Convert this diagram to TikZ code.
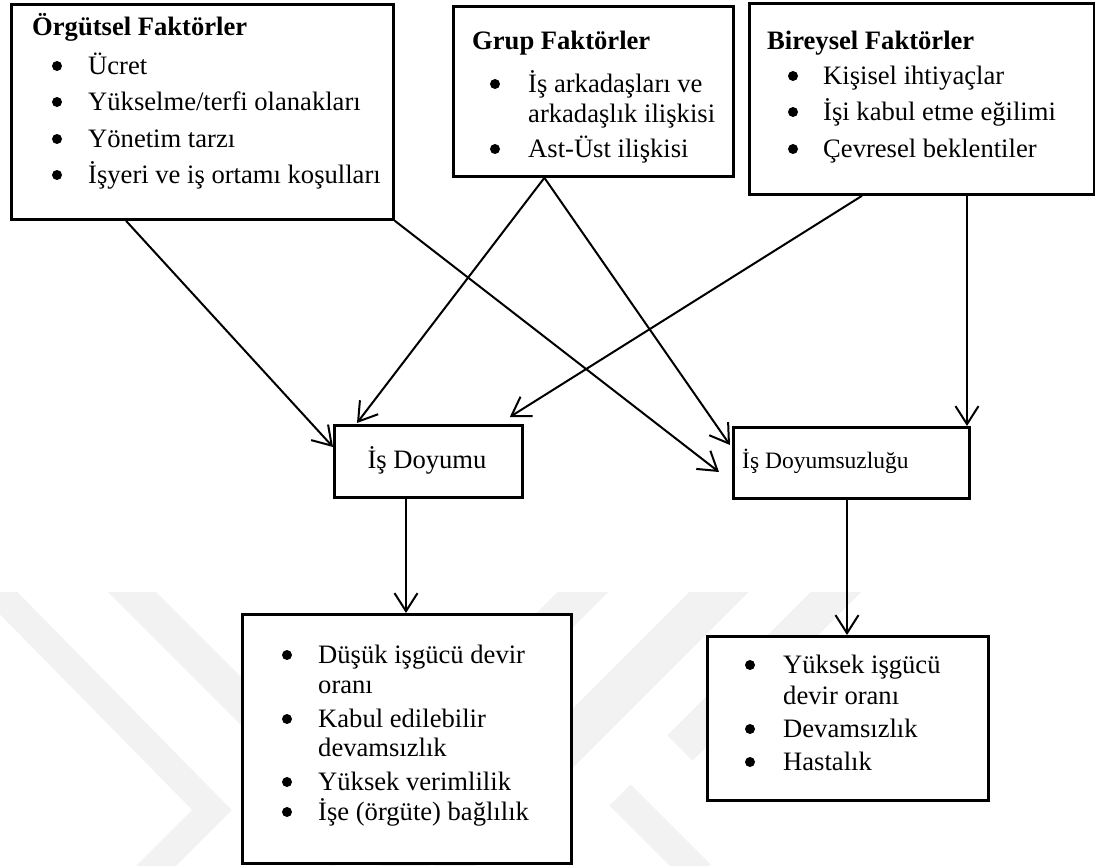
\documentclass[tikz,border=0pt]{standalone}
\usepackage{fontspec}
\setmainfont{Liberation Serif}
\usetikzlibrary{arrows.meta,calc}
\tikzset{
  box/.style={draw, line width=2.8pt, fill=white, inner sep=0pt, anchor=north west},
  txt/.style={anchor=base west, inner sep=0pt, font=\fontsize{26.6}{30}\selectfont},
  head/.style={anchor=base west, inner sep=0pt, font=\fontsize{26.6}{30}\selectfont\bfseries},
  arr/.style={line width=2pt, -{Straight Barb[length=18pt,width=23pt,line width=2pt]}},
  wm/.style={draw=black!5, line join=miter}
}
\newcommand\bul[2]{\fill (#1,#2-8) circle (5pt);}
\begin{document}
\begin{tikzpicture}[x=1pt,y=-1pt]
\useasboundingbox (0,0) rectangle (1095,865);
\fill[white] (0,0) rectangle (1095,865);
% faint watermark
\begin{scope}
  \clip (0,592) rectangle (1095,865);
  \draw[wm, line width=28pt] (-24,570) -- (212,810) -- (140,882);
  \draw[wm, line width=34pt] (110,570) -- (420,880);
  \draw[wm, line width=36pt] (605,570) -- (320,855);
  \draw[wm, line width=42pt] (741,570) -- (440,871);
  \draw[wm, line width=36pt] (858,570) -- (680,748);
  \draw[wm, line width=30pt] (620,795) -- (700,875);
\end{scope}
% boxes
\node[box, minimum width=382pt, minimum height=215pt] (org) at (10,3) {};
\node[box, minimum width=280pt, minimum height=170pt] (grp) at (452,5) {};
\node[box, minimum width=345pt, minimum height=191pt] (bir) at (748,2) {};
\node[box, minimum width=188pt, minimum height=72pt] (doy) at (333,424) {};
\node[box, minimum width=236pt, minimum height=71pt] (dsz) at (732,426) {};
\node[box, minimum width=329pt, minimum height=249pt] (s1) at (241,613) {};
\node[box, minimum width=281pt, minimum height=164pt] (s2) at (706,635) {};
% box 1 text
\node[head] (o0) at (32,35) {Örgütsel Faktörler};
\bul{57}{74}\node[txt] (o1) at (88,74) {Ücret};
\bul{57}{110}\node[txt] (o2) at (88,110) {Yükselme/terfi olanakları};
\bul{57}{147}\node[txt] (o3) at (88,147) {Yönetim tarzı};
\bul{57}{183}\node[txt] (o4) at (88,183) {İşyeri ve iş ortamı koşulları};
% box 2 text
\node[head] (g0) at (472,49) {Grup Faktörler};
\bul{495}{92}\node[txt] (g1) at (528,92) {İş arkadaşları ve};
\node[txt] (g2) at (528,122) {arkadaşlık ilişkisi};
\bul{495}{157}\node[txt] (g3) at (528,157) {Ast-Üst ilişkisi};
% box 3 text
\node[head] (b0) at (767,49) {Bireysel Faktörler};
\bul{793}{84}\node[txt] (b1) at (823,84) {Kişisel ihtiyaçlar};
\bul{793}{120}\node[txt] (b2) at (823,120) {İşi kabul etme eğilimi};
\bul{793}{157}\node[txt] (b3) at (823,157) {Çevresel beklentiler};
% middle boxes text
\node[txt, anchor=base] (d0) at (427,468) {İş Doyumu};
\node[txt, font=\fontsize{23.5}{28}\selectfont] (z0) at (742,468) {İş Doyumsuzluğu};
% result box 1
\bul{287}{663}\node[txt] (r1) at (318,663) {Düşük işgücü devir};
\node[txt] (r2) at (318,693) {oranı};
\bul{287}{727}\node[txt] (r3) at (318,727) {Kabul edilebilir};
\node[txt] (r4) at (318,756) {devamsızlık};
\bul{287}{790}\node[txt] (r5) at (318,790) {Yüksek verimlilik};
\bul{287}{820}\node[txt] (r6) at (318,820) {İşe (örgüte) bağlılık};
% result box 2
\bul{750}{673}\node[txt] (q1) at (783,673) {Yüksek işgücü};
\node[txt] (q2) at (783,704) {devir oranı};
\bul{750}{737}\node[txt] (q3) at (783,737) {Devamsızlık};
\bul{750}{770}\node[txt] (q4) at (783,770) {Hastalık};
% connectors
\draw[arr] ($(org.south west)+(116,0)$) -- ($(doy.north west)+(0,23)$);
\draw[arr] (org.south east) -- ($(dsz.north west)+(-13,46)$);
\draw[arr] ($(grp.south)+(-49,0)$) -- ($(doy.north west)+(24,-1)$);
\draw[arr] ($(grp.south)+(-49,0)$) -- ($(dsz.north west)+(-2,19)$);
\draw[arr] ($(bir.south west)+(114,0)$) -- ($(doy.north east)+(-14,-7)$);
\coordinate (f0) at ($(bir.south west)+(219,0)$);
\draw[arr] (f0) -- (f0 |- dsz.north);
\coordinate (g0s) at ($(doy.south west)+(73,0)$);
\draw[arr] (g0s) -- (g0s |- s1.north);
\coordinate (h0s) at ($(dsz.south west)+(115,0)$);
\draw[arr] (h0s) -- (h0s |- s2.north);
\end{tikzpicture}
\end{document}
